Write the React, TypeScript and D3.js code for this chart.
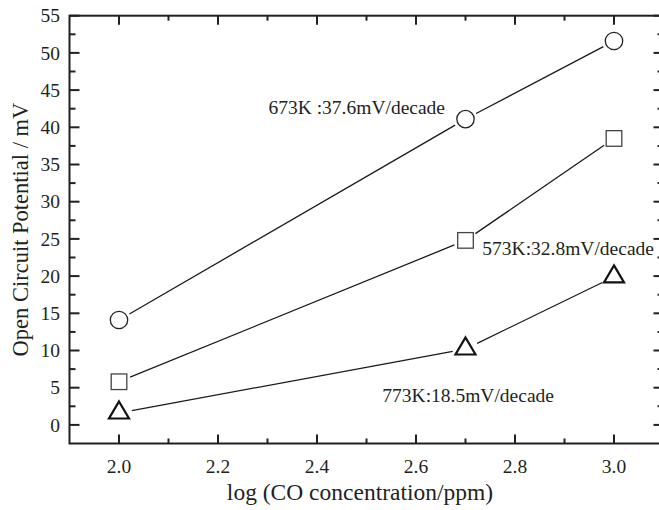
import React, { useRef, useEffect } from "react";
import * as d3 from "d3";

// log(CO concentration / ppm)
const logConc = [2.0, 2.7, 3.0];
// open circuit potential, mV
const ocp673 = [14.1, 41.1, 51.6];
const ocp573 = [5.8, 24.8, 38.5];
const ocp773 = [1.6, 10.2, 19.9];

const xMajor = [2.0, 2.2, 2.4, 2.6, 2.8, 3.0];
const xMinor = [2.1, 2.3, 2.5, 2.7, 2.9];
const yMajor = [0, 5, 10, 15, 20, 25, 30, 35, 40, 45, 50, 55];
const yMinor = [2.5, 7.5, 12.5, 17.5, 22.5, 27.5, 32.5, 37.5, 42.5, 47.5, 52.5];

const noteText = ["673K :37.6mV/decade", "573K:32.8mV/decade", "773K:18.5mV/decade"];
const noteX = [2.302, 2.734, 2.532];
const noteY = [41.8, 22.9, 3.1];

const FONT = "'Liberation Serif', 'Times New Roman', serif";
const INK = "#231f20";

const App = () => {
  const svgRef = useRef<SVGSVGElement>(null);

  useEffect(() => {
    const svg = d3.select(svgRef.current);
    svg.selectAll("*").remove();

    const left = 69.5, right = 663.5, top = 15.7, bottom = 443.5;
    const x = d3.scaleLinear().domain([1.9, 3.1]).range([left, right]);
    const y = d3.scaleLinear().domain([-2.5, 55]).range([bottom, top]);

    const g = svg.append("g");

    // frame
    g.append("rect")
      .attr("x", left).attr("y", top)
      .attr("width", right - left).attr("height", bottom - top)
      .attr("fill", "none").attr("stroke", INK).attr("stroke-width", 2);

    // inward ticks on all four sides
    const tick = (vals: number[], len: number) => {
      vals.forEach((v) => {
        g.append("line").attr("x1", x(v)).attr("x2", x(v)).attr("y1", bottom).attr("y2", bottom - len)
          .attr("stroke", INK).attr("stroke-width", 2);
        g.append("line").attr("x1", x(v)).attr("x2", x(v)).attr("y1", top).attr("y2", top + len)
          .attr("stroke", INK).attr("stroke-width", 2);
      });
    };
    tick(xMajor, 9);
    tick(xMinor, 5);
    const ytick = (vals: number[], len: number) => {
      vals.forEach((v) => {
        g.append("line").attr("x1", left).attr("x2", left + len).attr("y1", y(v)).attr("y2", y(v))
          .attr("stroke", INK).attr("stroke-width", 2);
        g.append("line").attr("x1", right).attr("x2", right - len).attr("y1", y(v)).attr("y2", y(v))
          .attr("stroke", INK).attr("stroke-width", 2);
      });
    };
    ytick(yMajor, 10);
    ytick(yMinor, 6);

    // tick labels
    g.selectAll(".xl").data(xMajor).join("text")
      .attr("x", (d) => x(d)).attr("y", 472.5)
      .attr("text-anchor", "middle")
      .attr("font-family", FONT).attr("font-size", 19.5).attr("fill", INK)
      .text((d) => d.toFixed(1));
    g.selectAll(".yl").data(yMajor).join("text")
      .attr("x", 60).attr("y", (d) => y(d))
      .attr("dy", "0.34em")
      .attr("text-anchor", "end")
      .attr("font-family", FONT).attr("font-size", 19.5).attr("fill", INK)
      .text((d) => d);

    // axis titles
    g.append("text")
      .attr("x", 360).attr("y", 500)
      .attr("text-anchor", "middle")
      .attr("font-family", FONT).attr("font-size", 23.5).attr("fill", INK)
      .text("log (CO concentration/ppm)");
    g.append("text")
      .attr("transform", `translate(28,${(top + bottom) / 2}) rotate(-90)`)
      .attr("text-anchor", "middle")
      .attr("font-family", FONT).attr("font-size", 22.5).attr("fill", INK)
      .text("Open Circuit Potential / mV");

    // connecting lines, stopped short of the markers
    const series = [
      { vals: ocp673, gap: 12 },
      { vals: ocp573, gap: 12 },
      { vals: ocp773, gap: 13 },
    ];
    series.forEach((s) => {
      for (let i = 0; i < logConc.length - 1; i++) {
        const x1 = x(logConc[i]), y1 = y(s.vals[i]);
        const x2 = x(logConc[i + 1]), y2 = y(s.vals[i + 1]);
        const len = Math.hypot(x2 - x1, y2 - y1);
        const ux = (x2 - x1) / len, uy = (y2 - y1) / len;
        g.append("line")
          .attr("x1", x1 + ux * s.gap).attr("y1", y1 + uy * s.gap)
          .attr("x2", x2 - ux * s.gap).attr("y2", y2 - uy * s.gap)
          .attr("stroke", "#1a1a1a").attr("stroke-width", 1.3);
      }
    });

    // markers
    g.selectAll(".c").data(ocp673).join("circle")
      .attr("cx", (_, i) => x(logConc[i])).attr("cy", (d) => y(d))
      .attr("r", 8.7)
      .attr("fill", "white").attr("stroke", "#222").attr("stroke-width", 1.3);
    g.selectAll(".s").data(ocp573).join("rect")
      .attr("x", (_, i) => x(logConc[i]) - 7.8).attr("y", (d) => y(d) - 7.8)
      .attr("width", 15.6).attr("height", 15.6)
      .attr("fill", "white").attr("stroke", "#444").attr("stroke-width", 1.3);
    const tri = "M0,-11.5L10,5.5L-10,5.5Z";
    g.selectAll(".t").data(ocp773).join("path")
      .attr("transform", (d, i) => `translate(${x(logConc[i])},${y(d)})`)
      .attr("d", tri)
      .attr("fill", "white").attr("stroke", "#111").attr("stroke-width", 2.2)
      .attr("stroke-linejoin", "miter");

    // slope annotations
    g.selectAll(".note").data(noteText).join("text")
      .attr("x", (_, i) => x(noteX[i])).attr("y", (_, i) => y(noteY[i]))
      .attr("font-family", FONT).attr("font-size", 19.5).attr("fill", INK)
      .text((d) => d);
  }, []);

  return (
    <svg
      ref={svgRef}
      width={659}
      height={510}
      style={{ position: "absolute", left: 0, top: 0, background: "white" }}
    />
  );
};

export default App;
